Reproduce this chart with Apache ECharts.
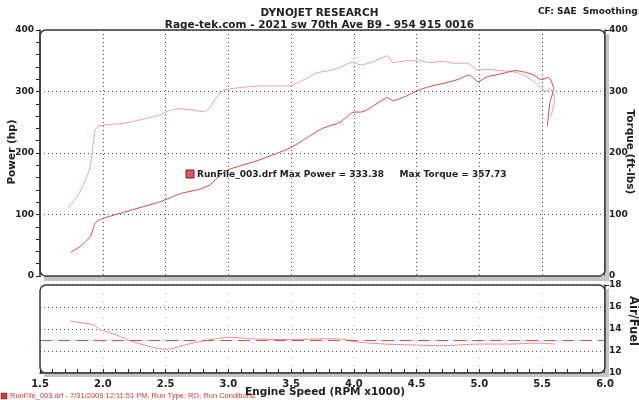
<!DOCTYPE html>
<html>
<head>
<meta charset="utf-8">
<script src="https://cdn.jsdelivr.net/npm/echarts@6/dist/echarts.min.js"></script>
<style>html,body{margin:0;padding:0;background:#fff}#c{width:639px;height:400px}</style>
</head>
<body>
<div id="c"></div>
<script>
// ---- data ----
const torqueRpm = [1.74, 1.73, 1.76, 1.82, 1.87, 1.90, 1.92, 1.94, 1.96, 2.00, 2.10, 2.19, 2.32, 2.45, 2.53, 2.61, 2.72, 2.80, 2.85, 2.90, 2.96, 3.04, 3.25, 3.49, 3.57, 3.62, 3.70, 3.80, 3.89, 3.99, 4.05, 4.15, 4.27, 4.31, 4.42, 4.53, 4.60, 4.71, 4.79, 4.90, 4.99, 5.06, 5.16, 5.27, 5.37, 5.45, 5.49, 5.53, 5.56, 5.60, 5.57];
const torqueFtLb = [110, 114, 119, 138, 160, 178, 210, 237, 243, 245, 247, 249, 255, 262, 269, 272, 270, 267, 273, 289, 302, 305, 309, 309, 316, 321, 330, 334, 339, 348, 343, 348, 358, 347, 350, 350, 347, 349, 346, 346, 335, 336, 334, 332, 325, 313, 305, 300, 305, 289, 259];

const powerRpm = [1.74, 1.82, 1.90, 1.94, 1.98, 2.19, 2.46, 2.62, 2.77, 2.85, 2.91, 2.99, 3.25, 3.49, 3.62, 3.75, 3.89, 3.99, 4.07, 4.15, 4.27, 4.31, 4.42, 4.50, 4.60, 4.71, 4.82, 4.92, 4.99, 5.06, 5.16, 5.29, 5.35, 5.43, 5.49, 5.55, 5.59, 5.56, 5.54];
const powerHp = [38, 48, 64, 86, 92, 105, 121, 134, 141, 148, 159, 172, 189, 208, 224, 240, 250, 266, 267, 276, 290, 285, 293, 301, 308, 313, 319, 327, 316, 324, 328, 334, 332, 327, 319, 323, 305, 280, 243];

const afrRpm = [1.74, 1.80, 1.92, 1.98, 2.11, 2.24, 2.38, 2.51, 2.62, 2.77, 2.90, 3.00, 3.20, 3.50, 3.75, 3.90, 4.00, 4.25, 4.50, 4.70, 5.00, 5.25, 5.45, 5.60];
const afrRatio = [14.73, 14.6, 14.4, 13.97, 13.45, 12.85, 12.4, 12.15, 12.45, 12.85, 13.1, 13.25, 13.1, 13.03, 13.1, 13.1, 12.85, 12.63, 12.54, 12.48, 12.63, 12.63, 12.72, 12.63];
const afrTarget = 13;

const titleText = 'DYNOJET RESEARCH';
const subTitleText = 'Rage-tek.com - 2021 sw 70th Ave B9 - 954 915 0016';
const cornerText = 'CF: SAE  Smoothing: 3';
const runLabel = 'RunFile_003.drf Max Power = 333.38     Max Torque = 357.73';
const footerText = 'RunFile_003.drf - 7/31/2009 12:11:51 PM, Run Type: RO, Run Conditions:';
const powerName = 'Power (hp)';
const torqueName = 'Torque (ft-lbs)';
const afrName = 'Air/Fuel';
const rpmName = 'Engine Speed (RPM x1000)';

const pairs = (xs, ys) => xs.map((x, i) => [x, ys[i]]);

const FONT = '"DejaVu Sans", Verdana, sans-serif';
const bold = (size, color) => ({ fontFamily: FONT, fontWeight: 'bold', fontSize: size, color: color || '#222' });
const boldFont = s => 'bold ' + s + 'px "DejaVu Sans", Verdana, sans-serif';

const chart = echarts.init(document.getElementById('c'), null, { renderer: 'canvas' });

const G0 = { left: 40, right: 34, top: 30, height: 246 };
const G1 = { left: 40, right: 34, top: 285, height: 88 };
const W = 639 - G0.left - G0.right;

const dotted = (c, dash) => ({ show: true, lineStyle: { color: c, width: 1, type: dash } });
const axLine = { show: true, lineStyle: { color: '#333', width: 1.5 } };
const ticks = { show: true, length: 4, lineStyle: { color: '#222', width: 1 } };

chart.setOption({
  animation: false,
  backgroundColor: '#fff',
  title: [
    { text: titleText, left: 'center', top: 3, textStyle: bold(10.5) },
    { text: subTitleText, left: 'center', top: 15, textStyle: bold(10.5) },
    { text: cornerText, left: 533, top: 2, textStyle: bold(9) }
  ],
  grid: [
    Object.assign({ outerBoundsMode: 'none', containLabel: false }, G0),
    Object.assign({ outerBoundsMode: 'none', containLabel: false }, G1)
  ],
  xAxis: [
    { type: 'value', gridIndex: 0, min: 1.5, max: 6, interval: 0.5,
      axisLine: { show: false }, axisTick: { show: false }, axisLabel: { show: false },
      splitLine: dotted('#555', [1, 3]) },
    { type: 'value', gridIndex: 1, min: 1.5, max: 6, interval: 0.5,
      axisLine: axLine,
      axisTick: Object.assign({}, ticks, { inside: true }),
      minorTick: Object.assign({}, ticks, { splitNumber: 5 }),
      axisLabel: Object.assign(bold(10), { margin: 6, formatter: v => v.toFixed(1) }),
      splitLine: dotted('#aaa', [1, 7]) }
  ],
  yAxis: [
    { type: 'value', gridIndex: 0, min: 0, max: 400, interval: 100, position: 'left',
      axisLine: axLine,
      axisTick: ticks,
      minorTick: Object.assign({}, ticks, { splitNumber: 5 }),
      axisLabel: Object.assign(bold(9), { margin: 6 }),
      splitLine: dotted('#555', [1, 3]) },
    { type: 'value', gridIndex: 0, min: 0, max: 400, interval: 100, position: 'right',
      axisLine: axLine,
      axisTick: ticks,
      minorTick: Object.assign({}, ticks, { splitNumber: 5 }),
      axisLabel: Object.assign(bold(9), { margin: 4 }),
      splitLine: { show: false } },
    { type: 'value', gridIndex: 1, min: 10, max: 18, interval: 2, position: 'left',
      axisLine: { show: false }, axisTick: { show: false }, axisLabel: { show: false },
      splitLine: dotted('#555', [1, 3]) },
    { type: 'value', gridIndex: 1, min: 10, max: 18, interval: 2, position: 'right',
      axisLine: axLine,
      axisTick: ticks,
      minorTick: Object.assign({}, ticks, { splitNumber: 4 }),
      axisLabel: Object.assign(bold(9), { margin: 4 }),
      splitLine: { show: false } }
  ],
  series: [
    { name: 'Torque', type: 'line', xAxisIndex: 0, yAxisIndex: 1, data: pairs(torqueRpm, torqueFtLb),
      showSymbol: false, smooth: 0.2, lineStyle: { color: '#e4a3a3', width: 1 }, z: 3 },
    { name: 'Power', type: 'line', xAxisIndex: 0, yAxisIndex: 0, data: pairs(powerRpm, powerHp),
      showSymbol: false, smooth: 0.2, lineStyle: { color: '#cf4a45', width: 1 }, z: 4 },
    { name: 'Air/Fuel', type: 'line', xAxisIndex: 1, yAxisIndex: 3, data: pairs(afrRpm, afrRatio),
      showSymbol: false, smooth: 0.3, lineStyle: { color: '#e58e8e', width: 1 },
      markLine: { silent: true, symbol: 'none', label: { show: false },
        lineStyle: { color: '#d9534f', width: 1.2, type: [12, 6] },
        data: [{ yAxis: afrTarget }] } }
  ],
  graphic: [
    // shadows
    { type: 'rect', shape: { x: G0.left + 4, y: G0.top + G0.height, width: W, height: 5 }, style: { fill: '#c4c4c4' }, z: 1 },
    { type: 'rect', shape: { x: G0.left + W, y: G0.top + 4, width: 4, height: G0.height + 1 }, style: { fill: '#c4c4c4' }, z: 1 },
    { type: 'rect', shape: { x: G1.left + 4, y: G1.top + G1.height, width: W, height: 4 }, style: { fill: '#c4c4c4' }, z: 1 },
    { type: 'rect', shape: { x: G1.left + W, y: G1.top + 4, width: 4, height: G1.height }, style: { fill: '#c4c4c4' }, z: 1 },
    // borders
    { type: 'rect', shape: { x: G0.left, y: G0.top, width: W, height: G0.height, r: 6 }, style: { fill: 'none', stroke: '#3a3a3a', lineWidth: 1.5 }, z: 10 },
    { type: 'rect', shape: { x: G1.left, y: G1.top, width: W, height: G1.height, r: 6 }, style: { fill: 'none', stroke: '#3a3a3a', lineWidth: 1.5 }, z: 10 },
    // axis names
    { type: 'text', x: 12, y: 152, rotation: Math.PI / 2, style: { text: powerName, font: boldFont(10.5), fill: '#222', textAlign: 'center', textVerticalAlign: 'middle' }, z: 20 },
    { type: 'text', x: 630, y: 152, rotation: -Math.PI / 2, style: { text: torqueName, font: boldFont(10.5), fill: '#222', textAlign: 'center', textVerticalAlign: 'middle' }, z: 20 },
    { type: 'text', x: 633, y: 321, rotation: -Math.PI / 2, style: { text: afrName, font: boldFont(11.5), fill: '#222', textAlign: 'center', textVerticalAlign: 'middle' }, z: 20 },
    { type: 'text', x: 325, y: 392, style: { text: rpmName, font: boldFont(10.5), fill: '#222', textAlign: 'center', textVerticalAlign: 'middle' }, z: 20 },
    // run label
    { type: 'rect', shape: { x: 186, y: 170, width: 8, height: 8 }, style: { fill: '#e05a5a', stroke: '#6b2020', lineWidth: 1 }, z: 20 },
    { type: 'text', x: 197, y: 175, style: { text: runLabel, font: boldFont(9), fill: '#222', textVerticalAlign: 'middle' }, z: 20 },
    // footer
    { type: 'rect', shape: { x: 1, y: 393, width: 6, height: 6 }, style: { fill: '#d23b3b', stroke: '#7a1a1a', lineWidth: 0.5 }, z: 20 },
    { type: 'text', x: 10, y: 396, style: { text: footerText, font: '7.5px "Liberation Sans", Arial, sans-serif', fill: '#d23b3b', textVerticalAlign: 'middle' }, z: 5 }
  ]
});
</script>
</body>
</html>
